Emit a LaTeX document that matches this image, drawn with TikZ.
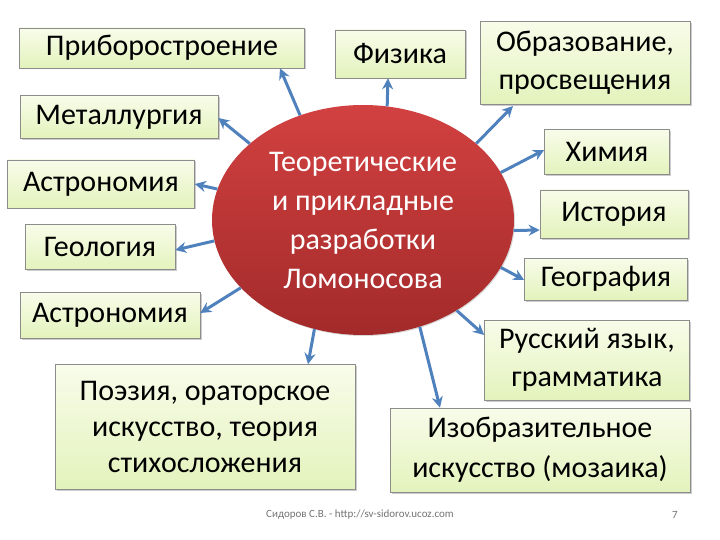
\documentclass[tikz,border=0pt]{standalone}
\usepackage{fontspec}
\setmainfont{Carlito}
\usetikzlibrary{shadows,shapes.geometric,arrows.meta}
\definecolor{boxg}{HTML}{E3F3BC}
\definecolor{boxg2}{HTML}{F8FCEA}
\definecolor{arr}{HTML}{4F81BD}
\definecolor{ell1}{HTML}{D24141}
\definecolor{ell2}{HTML}{A32A2A}
\tikzset{
 bx/.style={draw=black!45, line width=0.6pt, top color=boxg2, bottom color=boxg, drop shadow={shadow xshift=1.5pt,shadow yshift=-1.5pt,opacity=0.4}, font=\fontsize{30}{32}\selectfont, align=center, inner sep=0pt},
 ar/.style={draw=arr, line width=3pt, -{Stealth[length=11pt,width=11pt]}}
}
\begin{document}
\begin{tikzpicture}[x=1pt,y=-1pt]
\useasboundingbox (0,0) rectangle (720,540);
\node[bx, minimum width=285, minimum height=40] (a) at (162,48) {Приборостроение};
\node[bx, minimum width=130, minimum height=48] (b) at (400,54) {Физика};
\node[bx, minimum width=210, minimum height=83, font=\fontsize{30}{38}\selectfont] (c) at (585,63) {Образование,\\просвещения};
\node[bx, minimum width=198, minimum height=43] (d) at (119,117) {Металлургия};
\node[bx, minimum width=187, minimum height=48] (e) at (101,184) {Астрономия};
\node[bx, minimum width=150, minimum height=45] (f) at (100,247) {Геология};
\node[bx, minimum width=180, minimum height=46] (g) at (110,315) {Астрономия};
\node[bx, minimum width=300, minimum height=125, font=\fontsize{30}{36}\selectfont] (h) at (205,427) {Поэзия, ораторское\\искусство, теория\\стихосложения};
\node[bx, minimum width=125, minimum height=45] (i) at (607,152) {Химия};
\node[bx, minimum width=148, minimum height=48] (j) at (614,214) {История};
\node[bx, minimum width=163, minimum height=42] (k) at (606,279) {География};
\node[bx, minimum width=205, minimum height=80, font=\fontsize{30}{38}\selectfont] (l) at (587,360) {Русский язык,\\грамматика};
\node[bx, minimum width=300, minimum height=84, font=\fontsize{30}{40}\selectfont] (m) at (540,450) {Изобразительное\\искусство (мозаика)};
\node[ellipse, minimum width=302, minimum height=230, inner sep=0pt, draw=none, top color=ell1, bottom color=ell2, drop shadow={shadow xshift=1pt,shadow yshift=-1pt,opacity=0.3}] (o) at (363,220) {};
\node[text=white, align=center, font=\fontsize{30}{39}\selectfont] (ot) at (363,220) {Теоретические\\и прикладные\\разработки\\Ломоносова};
\draw[ar] (o.121) -- (a.south -| 280,0);
\draw[ar] (o.78) -- (b.south -| 388,0);
\draw[ar] (o.34) -- (513,106);
\draw[ar] (o.146) -- (d.east |- 0,118);
\draw[ar] (o.168) -- (e.east |- 0,184);
\draw[ar] (o.188) -- (f.east |- 0,250);
\draw[ar] (o.209) -- (g.east |- 0,313);
\draw[ar] (o.19) -- (i.west |- 0,150);
\draw[ar] (o.356) -- (j.west |- 0,230);
\draw[ar] (o.341) -- (k.west |- 0,280);
\draw[ar] (o.316) -- (l.west |- 0,335);
\draw[ar] (o.246) -- (h.north -| 308,0);
\draw[ar] (o.298) -- (m.north -| 440,0);
\node[text=black!55, font=\fontsize{11}{12}\selectfont] (ft) at (360,515) {Сидоров С.В. - http://sv-sidorov.ucoz.com};
\node[text=black!55, font=\fontsize{11}{12}\selectfont] (pg) at (675,515) {7};
\end{tikzpicture}
\end{document}
